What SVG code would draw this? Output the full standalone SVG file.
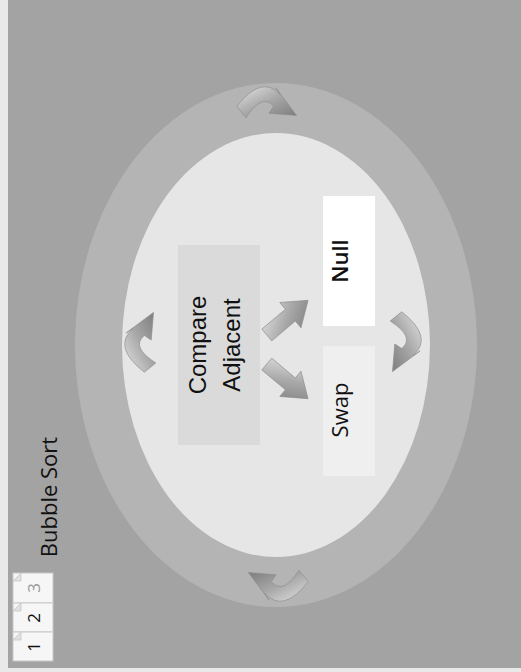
<svg xmlns="http://www.w3.org/2000/svg" width="521" height="672" viewBox="0 0 521 672">
  <defs>
    <style>
      .lbl { font-family: "Open Sans", "Liberation Sans", sans-serif; fill: #111; text-anchor: middle; }
      .cmp { font-family: "Liberation Sans", Arial, sans-serif; fill: #111; text-anchor: middle; font-size: 24px; }
      .tab { fill: #f6f6f6; stroke: #c8c8c8; stroke-width: 1; }
      .fold { fill: #e0e0e0; stroke: #c8c8c8; stroke-width: 0.8; }
      .arr { fill: url(#ag); stroke: #8e8e8e; stroke-width: 0.6; }
    </style>
    <linearGradient id="ag" x1="0" y1="0" x2="1" y2="1">
      <stop offset="0" stop-color="#e4e4e4"/>
      <stop offset="0.5" stop-color="#a8a8a8"/>
      <stop offset="1" stop-color="#7a7a7a"/>
    </linearGradient>
    <path id="curved" d="M -28 2 Q -6 -26 10 -8 L 6 -14 L 24 10 L 0 8 L 4 2 Q -6 -10 -20 12 Z"/>
    <path id="straight" d="M -24 -7 L 4 -7 L 4 -15 L 25 0 L 4 15 L 4 7 L -24 7 Z"/>
  </defs>

  <rect x="0" y="0" width="521" height="672" fill="#e9e9e9"/>
  <rect x="8" y="0" width="513" height="668" fill="#a3a3a3"/>

  <g id="ring">
    <ellipse cx="276" cy="345" rx="201" ry="262" fill="#b4b4b4"/>
    <ellipse cx="276" cy="345" rx="154" ry="212" fill="#e6e6e6"/>
  </g>

  <g id="title">
    <text class="lbl" font-size="22" transform="translate(57,497) rotate(-90)">Bubble Sort</text>
  </g>

  <g id="compare">
    <rect x="178" y="245" width="82" height="200" fill="#dadada"/>
    <text class="cmp" transform="translate(206,345) rotate(-90)">Compare</text>
    <text class="cmp" transform="translate(240,345) rotate(-90)">Adjacent</text>
  </g>

  <g id="null">
    <rect x="323" y="196" width="52" height="130" fill="#ffffff"/>
    <text class="lbl" font-size="22" font-weight="600" transform="translate(348,261) rotate(-90)">Null</text>
  </g>

  <g id="swap">
    <rect x="323" y="346" width="52" height="130" fill="#efefef"/>
    <text class="lbl" font-size="22" transform="translate(348,410) rotate(-90)">Swap</text>
  </g>

  <g id="connectors">
    <use href="#curved" class="arr" transform="translate(269,104) scale(1.15)"/>
    <use href="#curved" class="arr" transform="translate(404,344) rotate(90) scale(1.15)"/>
    <use href="#curved" class="arr" transform="translate(276,584) rotate(180) scale(1.15)"/>
    <use href="#curved" class="arr" transform="translate(142,340) rotate(270) scale(1.15)"/>
    <use href="#straight" class="arr" transform="translate(287,318) rotate(-40) scale(1.1)"/>
    <use href="#straight" class="arr" transform="translate(287,381) rotate(40) scale(1.1)"/>
  </g>

  <g id="tabs">
    <g id="tab3">
      <rect class="tab" x="13" y="573" width="40" height="30"/>
      <path class="fold" d="M 13 581 L 21 573 L 21 581 Z"/>
      <text class="lbl" font-size="17" style="fill:#999" transform="translate(40,588) rotate(-90)">3</text>
    </g>
    <g id="tab2">
      <rect class="tab" x="13" y="603" width="40" height="29"/>
      <path class="fold" d="M 13 611 L 21 603 L 21 611 Z"/>
      <text class="lbl" font-size="17" transform="translate(40,618) rotate(-90)">2</text>
    </g>
    <g id="tab1">
      <rect class="tab" x="13" y="632" width="40" height="29"/>
      <path class="fold" d="M 13 640 L 21 632 L 21 640 Z"/>
      <text class="lbl" font-size="17" transform="translate(40,647) rotate(-90)">1</text>
    </g>
  </g>
</svg>
